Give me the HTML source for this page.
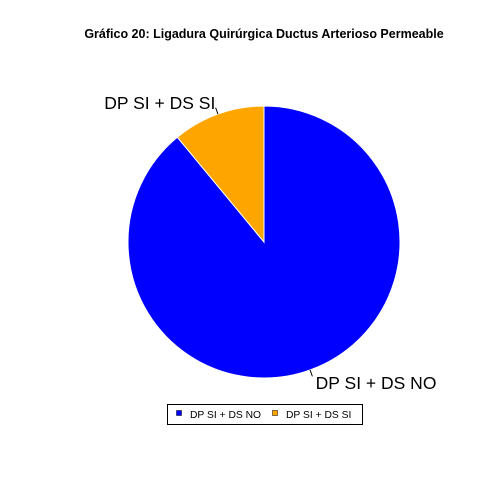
<!DOCTYPE html>
<html><head><meta charset="utf-8"><style>body{margin:0;background:#fff}svg{display:block;font-family:"Liberation Sans",Arial,sans-serif}</style></head>
<body>
<svg id="c" width="500" height="500">
<text x="264" y="38" text-anchor="middle" font-size="12.5" font-weight="bold">Gráfico 20: Ligadura Quirúrgica Ductus Arterioso Permeable</text>
<g id="slices"></g>
<g>
<rect x="167.5" y="404.5" width="195" height="20" fill="#fff" stroke="#000"/>
<rect x="176.5" y="410.5" width="5" height="5" fill="#0000ff" stroke="#000" stroke-width="0.5"/>
<text x="190" y="418" font-size="10.3">DP SI + DS NO</text>
<rect x="272.5" y="410.5" width="5" height="5" fill="#ffa500" stroke="#000" stroke-width="0.5"/>
<text x="286" y="418" font-size="10.3">DP SI + DS SI</text>
</g>
</svg>
<script>
const categories=["DP SI + DS NO","DP SI + DS SI"];
const values=[89,11];
const colors=["#0000ff","#ffa500"];
const cx=264,cy=242,r=136;
const g=document.getElementById('slices');
const ns="http://www.w3.org/2000/svg";
const total=values.reduce((a,b)=>a+b,0);
let a=90;
values.forEach((v,i)=>{
  const sweep=v/total*360;
  const a0=a,a1=a-sweep;
  const p=t=>[cx+r*Math.cos(t*Math.PI/180),cy-r*Math.sin(t*Math.PI/180)];
  const [x0,y0]=p(a0),[x1,y1]=p(a1);
  const path=document.createElementNS(ns,'path');
  path.setAttribute('d',`M${cx},${cy} L${x0},${y0} A${r},${r} 0 ${sweep>180?1:0} 1 ${x1},${y1} Z`);
  path.setAttribute('fill',colors[i]);
  path.setAttribute('stroke','#fff');
  path.setAttribute('stroke-width','1');
  
  
  g.appendChild(path);
  const m=(a0+a1)/2*Math.PI/180;
  const c=Math.cos(m),s=Math.sin(m);
  const ln=document.createElementNS(ns,'line');
  ln.setAttribute('x1',cx+r*c);ln.setAttribute('y1',cy-r*s);
  ln.setAttribute('x2',cx+1.05*r*c);ln.setAttribute('y2',cy-1.05*r*s);
  ln.setAttribute('stroke','#000');
  
  
  g.appendChild(ln);
  const t=document.createElementNS(ns,'text');
  t.setAttribute('x',cx+1.1*r*c+(c>=0?1:2));
  t.setAttribute('y',cy-1.1*r*s+(c>=0?6:8));
  t.setAttribute('text-anchor',c>=0?'start':'end');
  t.setAttribute('font-size','17.5');
  t.textContent=categories[i];
  
  
  g.appendChild(t);
  a=a1;
});
</script>
</body></html>
